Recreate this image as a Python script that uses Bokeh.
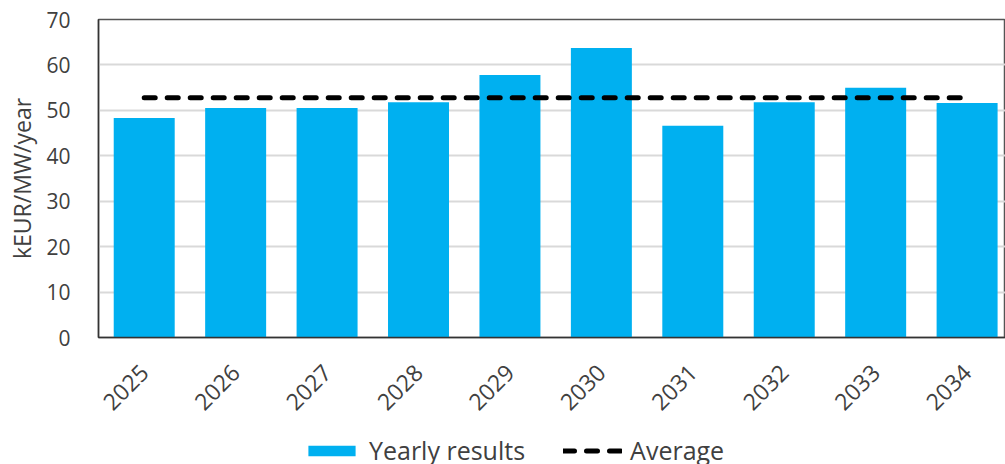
import math
from bokeh.plotting import figure
from bokeh.layouts import column
from bokeh.models import Range1d, FixedTicker, Legend, LegendItem
from bokeh.embed import file_html
from bokeh.resources import INLINE

# Yearly results, kEUR per MW per year
years = ["2025", "2026", "2027", "2028", "2029", "2030", "2031", "2032", "2033", "2034"]
yearly_results = [48.3, 50.5, 50.5, 51.8, 57.8, 63.7, 46.6, 51.8, 55.0, 51.6]
y_ticks = [0, 10, 20, 30, 40, 50, 60, 70]

average = sum(yearly_results) / len(yearly_results)
xs = list(range(len(years)))

FONT = "Open Sans"
TEXT = "#404040"
BAR_COLOR = "#00B0F0"
AVG_STYLE = dict(line_color="black", line_width=5, line_dash="11 12", line_cap="round")

p = figure(width=1005, height=437, output_backend="svg", toolbar_location=None,
           x_range=Range1d(-0.5, 9.42), y_range=Range1d(0, 70),
           min_border_left=98, min_border_right=0, min_border_top=19, min_border_bottom=100)

p.vbar(x=xs, top=yearly_results, width=0.667, bottom=0, fill_color=BAR_COLOR, line_color=None)
p.line(x=[xs[0], xs[-1]], y=[average, average], **AVG_STYLE)

p.outline_line_color = "#555555"
p.outline_line_width = 1.5
p.xgrid.grid_line_color = None
p.ygrid.grid_line_color = "#d9d9d9"
p.ygrid.grid_line_width = 2
p.ygrid.ticker = FixedTicker(ticks=y_ticks)

p.yaxis.ticker = FixedTicker(ticks=y_ticks)
p.yaxis.axis_label = "kEUR/MW/year"
p.yaxis.axis_label_text_font = FONT
p.yaxis.axis_label_text_font_style = "normal"
p.yaxis.axis_label_text_font_size = "23px"
p.yaxis.axis_label_text_color = TEXT
p.yaxis.axis_label_standoff = 5
p.yaxis.major_label_text_font = FONT
p.yaxis.major_label_text_font_size = "21px"
p.yaxis.major_label_text_color = TEXT
p.yaxis.major_label_standoff = 22
p.yaxis.major_tick_line_color = None
p.yaxis.minor_tick_line_color = None
p.yaxis.axis_line_color = "#333333"
p.yaxis.axis_line_width = 1.5

p.xaxis.ticker = FixedTicker(ticks=xs)
p.xaxis.major_label_overrides = {i: y for i, y in enumerate(years)}
p.xaxis.major_label_orientation = math.pi / 4
p.xaxis.major_label_text_font = FONT
p.xaxis.major_label_text_font_size = "23px"
p.xaxis.major_label_text_color = TEXT
p.xaxis.major_label_standoff = 25
p.xaxis.major_tick_line_color = None
p.xaxis.minor_tick_line_color = None
p.xaxis.axis_line_color = "#333333"
p.xaxis.axis_line_width = 1.5

# Legend strip under the chart; its key renderers sit outside the visible range
lg = figure(width=1005, height=27, output_backend="svg", toolbar_location=None,
            x_range=Range1d(0, 1), y_range=Range1d(0, 1),
            min_border=0, outline_line_color=None)
lg.axis.visible = False
lg.grid.visible = False
key_bar = lg.vbar(x=[5], top=[1], width=0.1, fill_color=BAR_COLOR, line_color=None)
key_avg = lg.line(x=[5, 6], y=[0.5, 0.5], **AVG_STYLE)

legend = Legend(items=[LegendItem(label="Yearly results", renderers=[key_bar]),
                       LegendItem(label="Average", renderers=[key_avg])],
                orientation="horizontal", location=(204, -3),
                glyph_width=59, glyph_height=13, label_standoff=8, spacing=38,
                label_text_font=FONT, label_text_font_size="25px",
                label_text_color=TEXT, background_fill_alpha=0,
                border_line_color=None, padding=0, margin=0)
lg.add_layout(legend, "center")

open("out.html", "w").write(file_html(column(p, lg, spacing=0), INLINE))
